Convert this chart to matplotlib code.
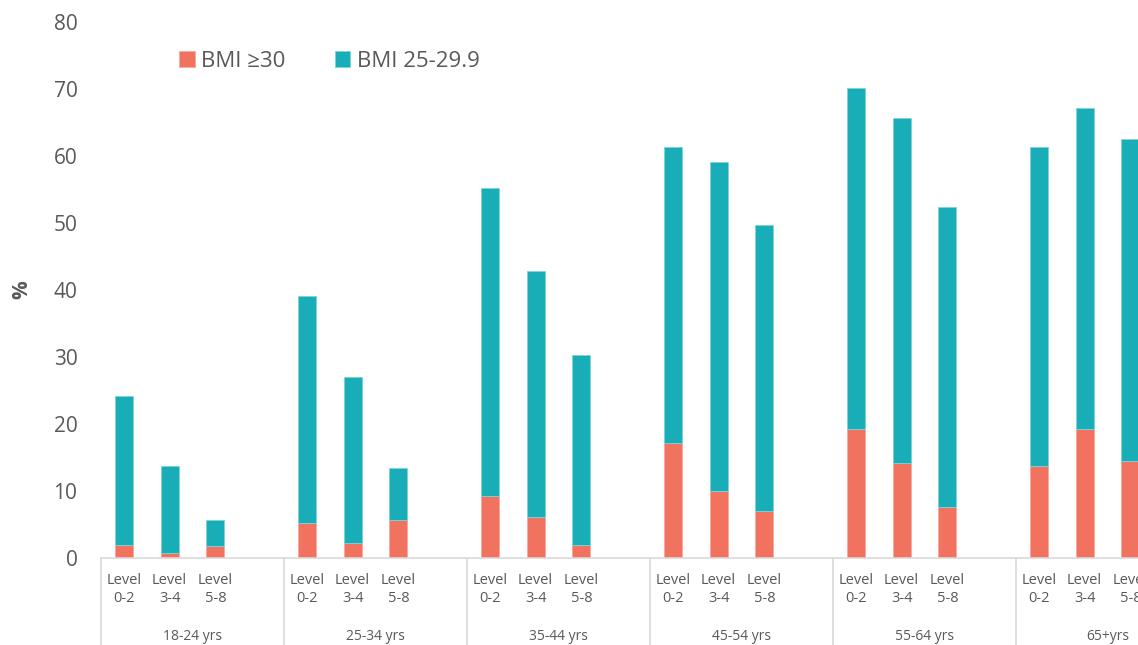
import matplotlib.pyplot as plt

plt.rcParams['font.family'] = ['Open Sans', 'DejaVu Sans']

# data
age_groups = ['18-24 yrs', '25-34 yrs', '35-44 yrs', '45-54 yrs', '55-64 yrs', '65+yrs']
levels = ['Level\n0-2', 'Level\n3-4', 'Level\n5-8']
bmi_30 = [1.9, 0.7, 1.8,
          5.2, 2.2, 5.7,
          9.3, 6.1, 1.9,
          17.2, 10.0, 7.0,
          19.3, 14.2, 7.6,
          13.8, 19.2, 14.5]
bmi_25 = [22.3, 13.0, 3.9,
          33.9, 24.8, 7.7,
          45.9, 36.7, 28.4,
          44.1, 49.1, 42.7,
          50.8, 51.5, 44.8,
          47.6, 48.0, 48.1]

red = '#F27260'
teal = '#19AEB7'
grey = '#595959'
line_grey = '#D9D9D9'

W, H = 1138, 645
fig = plt.figure(figsize=(W / 100, H / 100), dpi=100)
ax = fig.add_axes([101 / W, 1 - 558 / H, 1 - 101 / W, (558 - 22) / H])

# each age group takes 4 slots, the last one left empty
xs = [g * 4 + i + 0.5 for g in range(len(age_groups)) for i in range(len(levels))]
ax.bar(xs, bmi_30, width=0.39, color=red, edgecolor='#F8A89C', linewidth=0.6, label='BMI \u226530')
ax.bar(xs, bmi_25, width=0.39, bottom=bmi_30, color=teal, edgecolor='#7FD3D8',
       linewidth=0.6, label='BMI 25-29.9')

ax.set_xlim(0, (W - 101) / 45.75)
ax.set_ylim(0, 80)
ax.set_yticks(range(0, 81, 10))
ax.tick_params(axis='y', length=0, pad=17, labelsize=15, labelcolor=grey)
ax.set_xticks([])
for s in ['top', 'right', 'left']:
    ax.spines[s].set_visible(False)
ax.spines['bottom'].set_color(line_grey)
ax.spines['bottom'].set_linewidth(1.2)

ax.set_ylabel('%', fontsize=15, color=grey, fontweight='bold')
ax.yaxis.set_label_coords(-0.066, 0.5)

trans = ax.get_xaxis_transform()
for i, x in enumerate(xs):
    ax.text(x, -0.059, levels[i % 3], transform=trans, ha='center', va='center',
            fontsize=10.5, color=grey, linespacing=1.3)
for g, name in enumerate(age_groups):
    ax.text(g * 4 + 2, -0.146, name, transform=trans, ha='center', va='center',
            fontsize=10, color=grey)
    ax.plot([g * 4, g * 4], [0, -0.25], transform=trans, color=line_grey,
            linewidth=1.2, clip_on=False)

ax.legend(loc='upper left', bbox_to_anchor=(0.056, 0.984), ncol=2, frameon=False,
          fontsize=16, labelcolor=grey, handlelength=0.7, handleheight=0.7,
          handletextpad=0.3, columnspacing=2.2)

fig.savefig('out.png', dpi=100)
